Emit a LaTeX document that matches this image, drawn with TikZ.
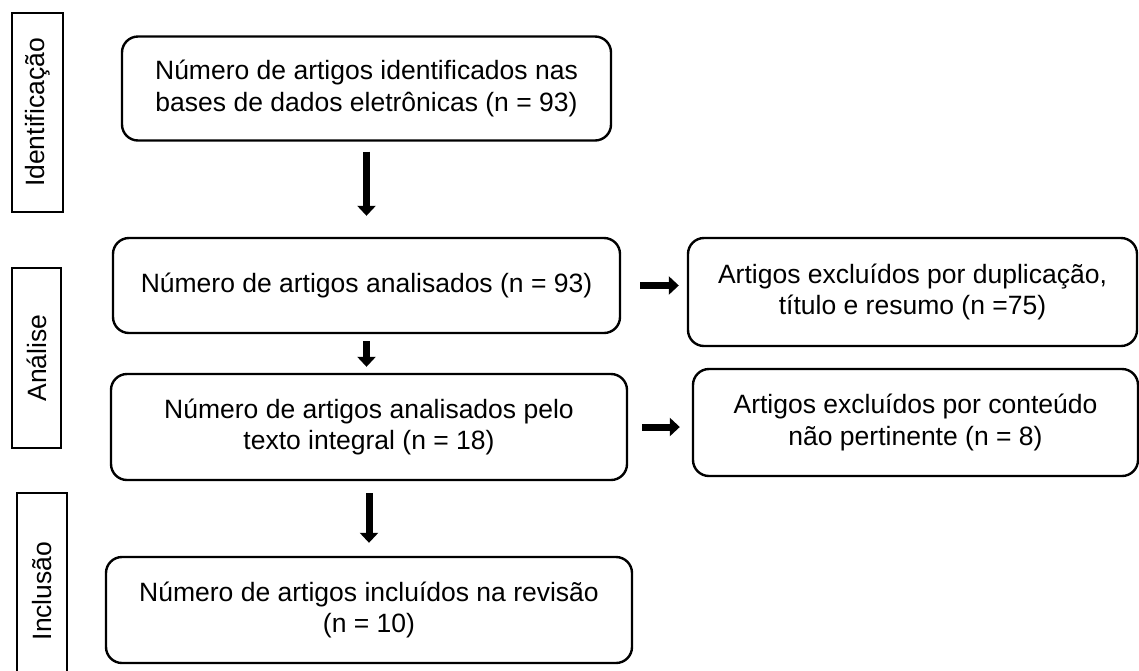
\documentclass[tikz,border=0pt]{standalone}
\usepackage{fontspec}
\setmainfont{Liberation Sans}
\usetikzlibrary{shapes.geometric, arrows.meta}
\tikzstyle{arrow} = [line width=3.5pt,-{Triangle[width=9pt,length=5pt]}]
\tikzstyle{etapa} = [rectangle, rounded corners=8pt, draw=black, line width=1.2pt, align=center, inner sep=0pt]
\tikzstyle{fase} = [rectangle, draw=black, line width=1.2pt, rotate=90, inner sep=0pt]

\begin{document}
\begin{tikzpicture}[node distance=98.5pt, font=\fontsize{13.25}{15.8}\selectfont]
		\useasboundingbox (0,0) rectangle (569.5pt,-335pt);
		\node (b1) [etapa, minimum width=244.5pt, minimum height=52pt] at (183.25pt,-44.25pt) {Número de artigos identificados nas\\bases de dados eletrônicas (n = 93)};
		\node (b2) [etapa, minimum width=253.5pt, minimum height=47.5pt, below of=b1] {Número de artigos analisados (n = 93)};
		\draw [arrow, shorten <=5pt, shorten >=10.5pt] (b1) -- (b2);
		\node (r1) [etapa, minimum width=224.5pt, minimum height=54pt, right of=b2, xshift=174.5pt, yshift=-3.25pt] {Artigos excluídos por duplicação,\\título e resumo (n =75)};
		\draw [arrow, shorten <=9.5pt, shorten >=4pt] (b2.east) -- (b2.east -| r1.west);
		\node (b3) [etapa, minimum width=258pt, minimum height=53pt, below of=b2, xshift=1.25pt, yshift=27.75pt] {Número de artigos analisados pelo\\texto integral (n = 18)};
		\draw [arrow, shorten <=3.5pt, shorten >=3pt] (b2.south) -- (b2.south |- b3.north);
		\node (r2) [etapa, minimum width=222.5pt, minimum height=53.5pt, right of=b3, xshift=174.75pt, yshift=2.25pt] {Artigos excluídos por conteúdo\\não pertinente (n = 8)};
		\draw [arrow, shorten <=7pt, shorten >=6pt] (b3.east) -- (b3.east -| r2.west);
		\node (b4) [etapa, minimum width=263pt, minimum height=53pt, below of=b3, yshift=7pt] {Número de artigos incluídos na revisão\\(n = 10)};
		\draw [arrow, shorten <=6pt, shorten >=6.5pt] (b3) -- (b4);
		% fases
		\node (fid) [fase, minimum width=99.5pt, minimum height=25.5pt] at (18.75pt,-56.25pt) {Identificação};
		\node (fan) [fase, minimum width=90pt, minimum height=24.5pt] at (18.25pt,-179pt) {Análise};
		\node (fin) [fase, minimum width=98pt, minimum height=25pt] at (21pt,-295.5pt) {Inclusão};
\end{tikzpicture}
\end{document}
